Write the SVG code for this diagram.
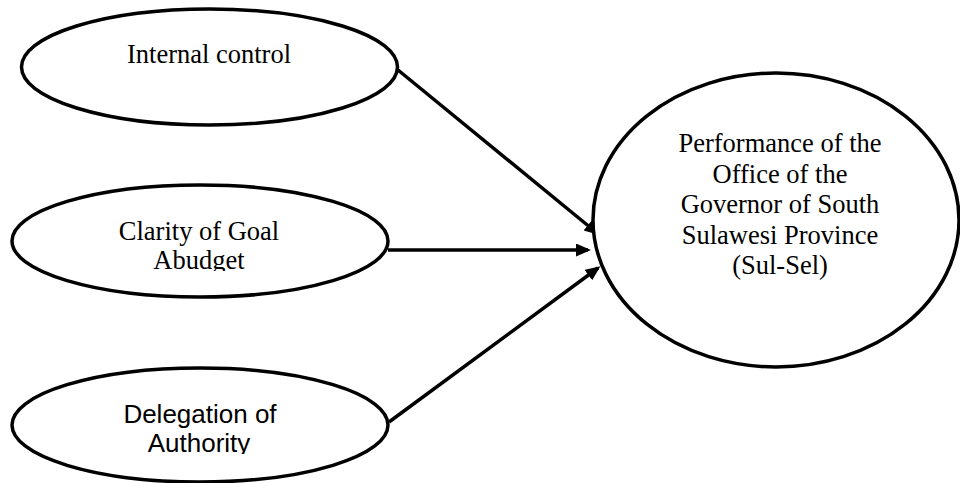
<svg xmlns="http://www.w3.org/2000/svg" width="960" height="483" viewBox="0 0 960 483">
<style>
.node ellipse{fill:#fff;stroke:#000;stroke-width:3.5}
.serif{font-family:"Liberation Serif","Times New Roman",serif;font-size:26.5px;fill:#000;text-anchor:middle}
.sans{font-family:"Liberation Sans",Arial,sans-serif;font-size:26px;fill:#000;text-anchor:middle}
.edge{stroke:#000;stroke-width:3.5;fill:none;marker-end:url(#arrow)}
</style>
<defs>
<marker id="arrow" markerUnits="userSpaceOnUse" markerWidth="16" markerHeight="14" refX="12" refY="6.5" orient="auto">
<path d="M0,0 L15,6.5 L0,13 z" fill="#000"/>
</marker>
<clipPath id="clip2"><rect x="0" y="150" width="400" height="121"/></clipPath>
<clipPath id="clip3"><rect x="0" y="340" width="400" height="114"/></clipPath>
</defs>
<rect width="960" height="483" fill="#fff"/>
<g id="connectors">
<line class="edge" x1="398" y1="70" x2="597" y2="233"/>
<line class="edge" x1="388" y1="250" x2="588" y2="250"/>
<line class="edge" x1="389" y1="422" x2="598" y2="268"/>
</g>
<g id="internal-control" class="node">
<ellipse cx="209.5" cy="67" rx="188" ry="58"/>
<text class="serif" x="209" y="63">Internal control</text>
</g>
<g id="clarity-of-goal" class="node">
<ellipse cx="200" cy="241" rx="188" ry="56"/>
<g clip-path="url(#clip2)">
<text class="serif" x="199" y="240">Clarity of Goal</text>
<text class="serif" x="199" y="269">Abudget</text>
</g>
</g>
<g id="delegation-of-authority" class="node">
<ellipse cx="200" cy="425" rx="188" ry="57"/>
<g clip-path="url(#clip3)">
<text class="sans" x="200" y="423">Delegation of</text>
<text class="sans" x="199" y="452">Authority</text>
</g>
</g>
<g id="performance" class="node">
<ellipse cx="776" cy="220" rx="183" ry="147"/>
<text class="serif" x="780" y="152">Performance of the</text>
<text class="serif" x="780" y="183">Office of the</text>
<text class="serif" x="780" y="213">Governor of South</text>
<text class="serif" x="780" y="244">Sulawesi Province</text>
<text class="serif" x="780" y="274">(Sul-Sel)</text>
</g>
</svg>
